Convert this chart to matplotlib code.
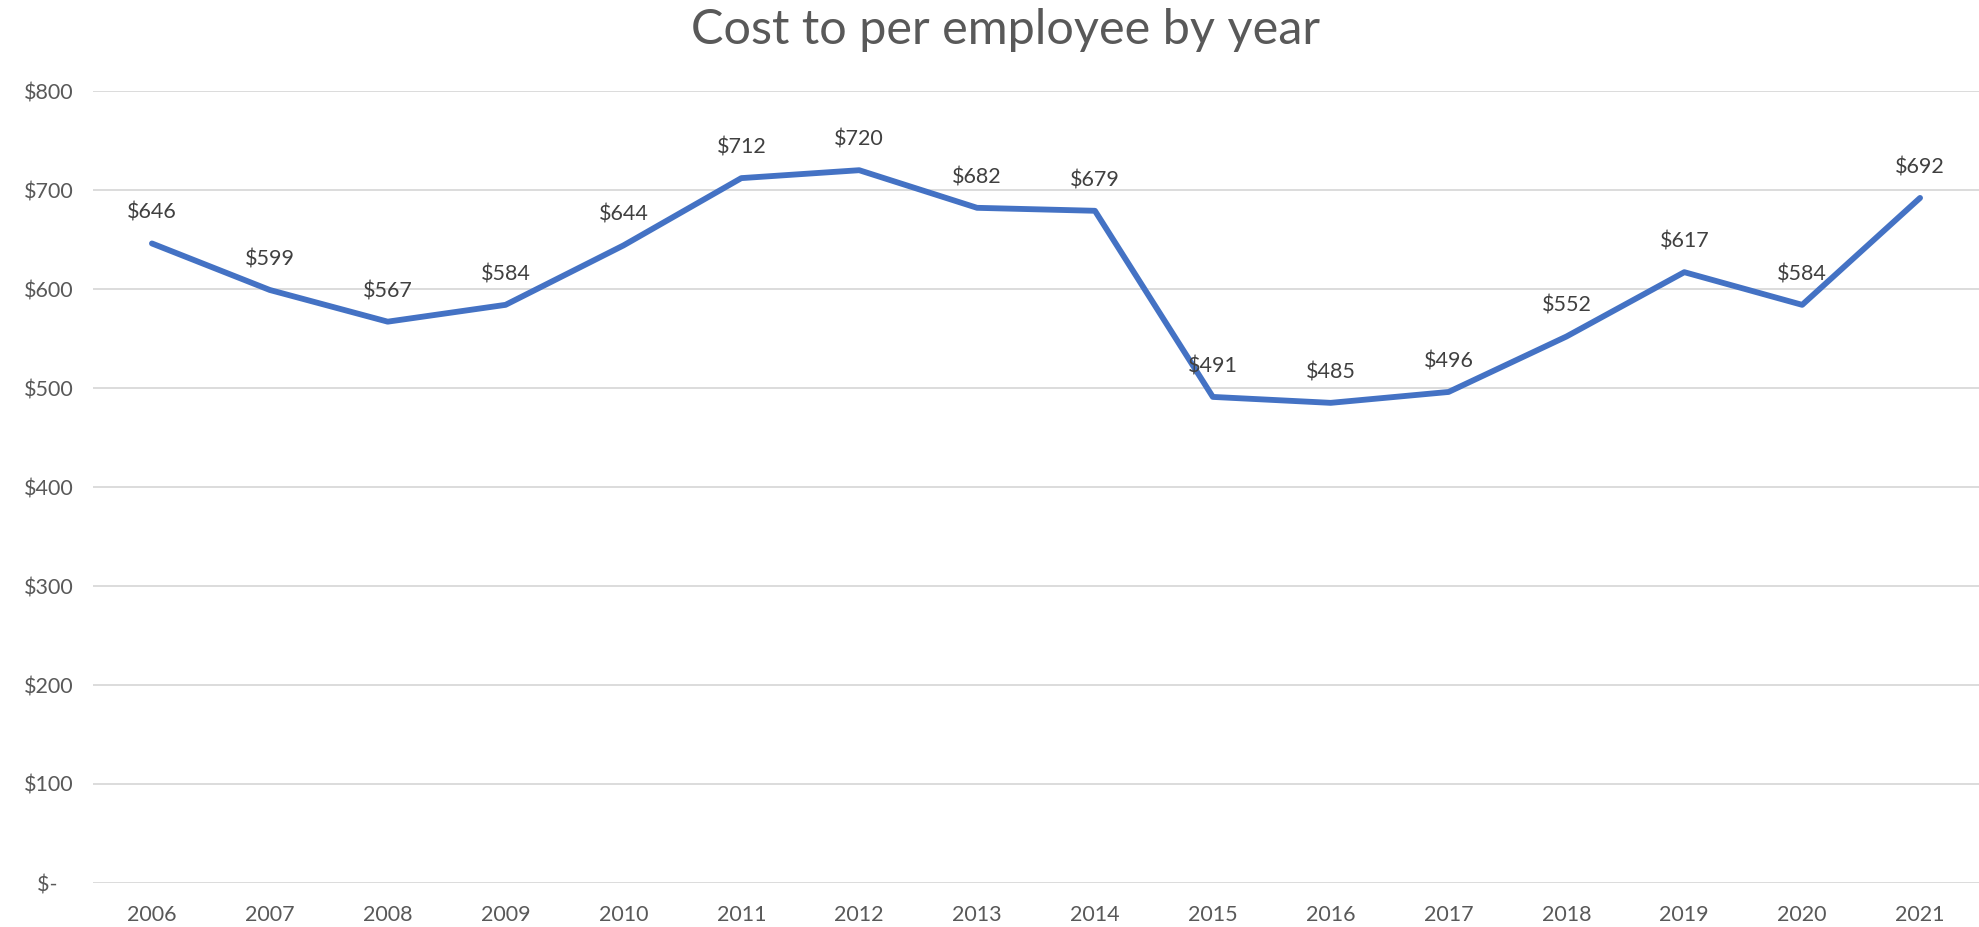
import matplotlib
matplotlib.use("Agg")
import matplotlib.pyplot as plt

years = ["2006", "2007", "2008", "2009", "2010", "2011", "2012", "2013",
         "2014", "2015", "2016", "2017", "2018", "2019", "2020", "2021"]
costs = [646, 599, 567, 584, 644, 712, 720, 682, 679, 491, 485, 496, 552, 617, 584, 692]
yticks = [0, 100, 200, 300, 400, 500, 600, 700, 800]
ytick_labels = ["$-   ", "$100", "$200", "$300", "$400", "$500", "$600", "$700", "$800"]
title = "Cost to per employee by year"

plt.rcParams['font.family'] = ['Lato', 'DejaVu Sans']
txt = "#595959"

fig = plt.figure(figsize=(19.79, 9.27), dpi=100)
ax = fig.add_axes([93/1979, 1-883/927, (1979-93)/1979, (883-91)/927])

x = list(range(len(years)))
ax.plot(x, costs, color="#4472C4", lw=4.2, solid_joinstyle="round", solid_capstyle="round", zorder=3)
for xi, v in zip(x, costs):
    ax.annotate(f"${v}", (xi, v), xytext=(0, 22), textcoords="offset points",
                ha="center", va="center", fontsize=15.5, color="#404040", zorder=4)

ax.set_xlim(-0.5, len(years) - 0.5)
ax.set_ylim(0, 800)
ax.set_xticks(x)
ax.set_xticklabels(years)
ax.set_yticks(yticks)
ax.set_yticklabels(ytick_labels)
ax.tick_params(axis="both", length=0, labelsize=15.5, colors=txt)
ax.tick_params(axis="x", pad=16)
ax.tick_params(axis="y", pad=14)
ax.grid(axis="y", color="#D9D9D9", lw=1.3)
ax.set_axisbelow(True)
for s in ax.spines.values():
    s.set_visible(False)

fig.text(1005/1979, 1-30/927, title, ha="center", va="center", fontsize=35, color=txt)

fig.savefig("out.png", dpi=100, facecolor="white")
